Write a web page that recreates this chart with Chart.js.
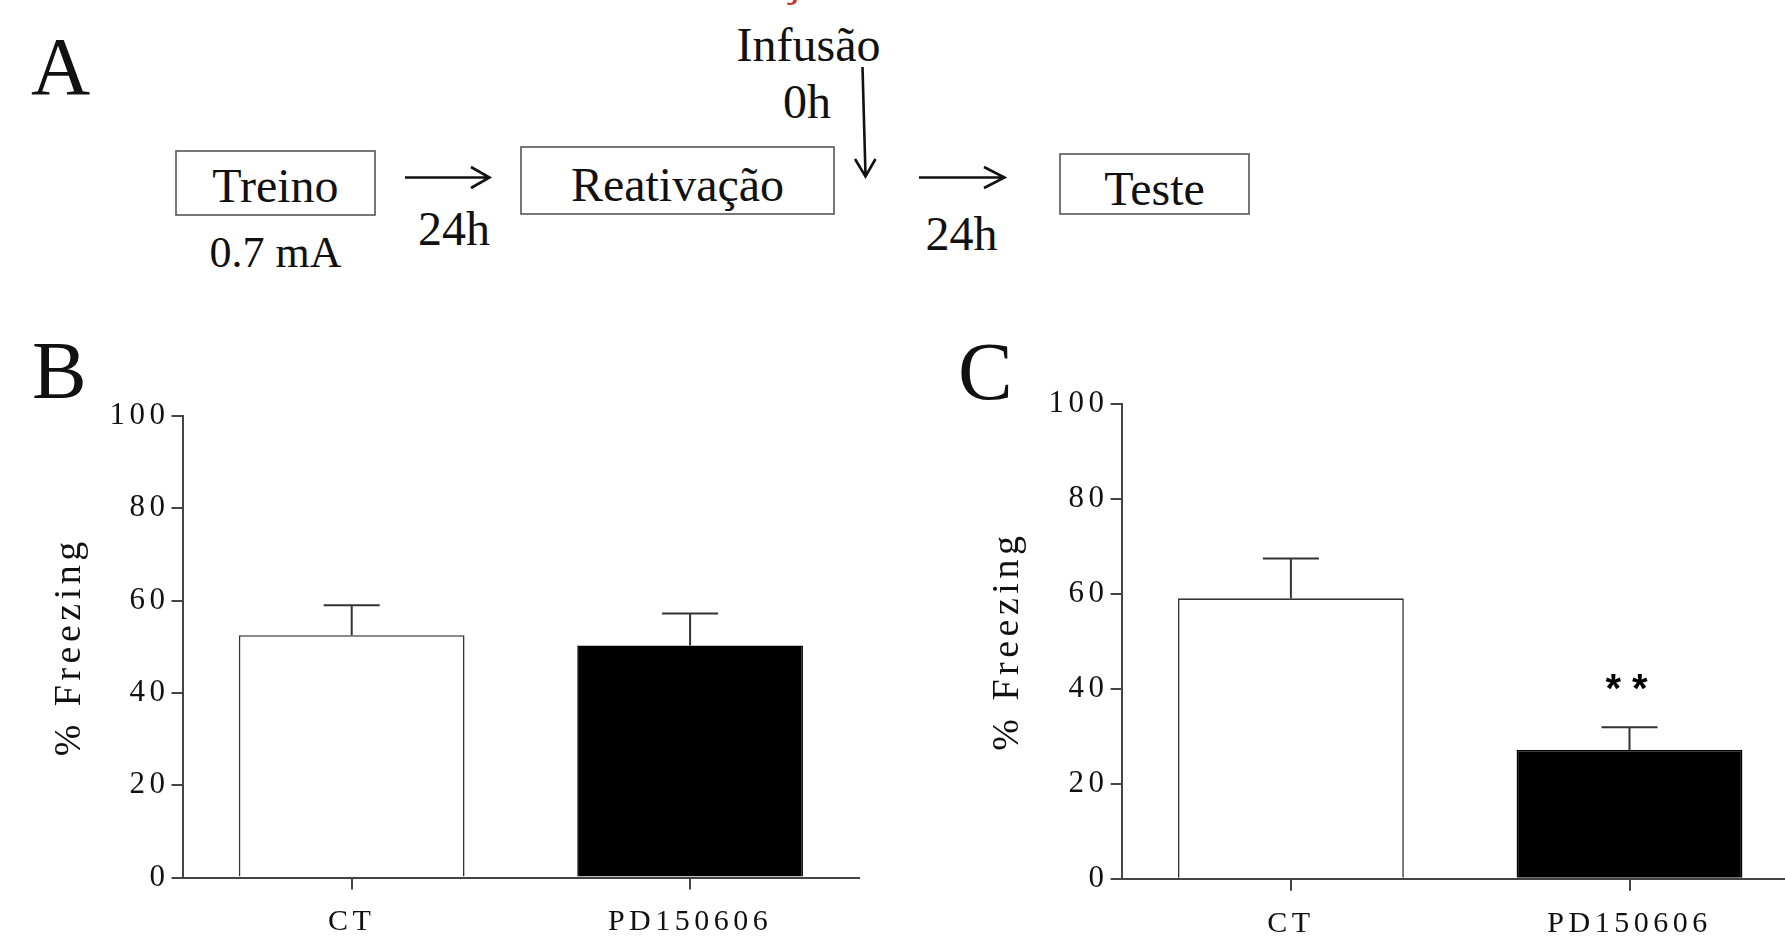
<!DOCTYPE html>
<html>
<head>
<meta charset="utf-8">
<script src="https://cdn.jsdelivr.net/npm/chart.js@4.4.1/dist/chart.umd.min.js"></script>
<style>
  html, body { margin: 0; padding: 0; background: #fff; overflow: hidden; }
  body { width: 1785px; height: 937px; position: relative; }
  #scheme { position: absolute; left: 0; top: 0; }
  canvas { position: absolute; }
  #chartB { left: 0; top: 330px; }
  #chartC { left: 940px; top: 330px; }
</style>
</head>
<body>

<!-- panel A: protocol scheme + panel letters -->
<svg id="scheme" width="1785" height="937" xmlns="http://www.w3.org/2000/svg">
  <text x="779" y="-6" font-family="'Liberation Serif', serif" font-size="52" fill="#c0392b">ç</text>
  <g font-family="'Liberation Serif', 'Times New Roman', serif" fill="#111">
    <text x="31" y="94" font-size="82">A</text>
    <text x="32" y="398" font-size="82">B</text>
    <text x="958" y="399" font-size="82">C</text>
    <text x="808.5" y="61" font-size="48" text-anchor="middle">Infusão</text>
    <text x="807" y="118" font-size="48" text-anchor="middle">0h</text>
    <text x="275.5" y="202" font-size="48" text-anchor="middle">Treino</text>
    <text x="275.5" y="267" font-size="44" text-anchor="middle">0.7 mA</text>
    <text x="454" y="245" font-size="48" text-anchor="middle">24h</text>
    <text x="677.5" y="201" font-size="48" text-anchor="middle">Reativação</text>
    <text x="961.5" y="250" font-size="48" text-anchor="middle">24h</text>
    <text x="1154.5" y="205" font-size="48" text-anchor="middle">Teste</text>
  </g>
  <g fill="none" stroke="#555" stroke-width="1.6">
    <rect x="176" y="151" width="199" height="64"/>
    <rect x="521" y="147" width="313" height="67"/>
    <rect x="1060" y="154" width="189" height="60"/>
  </g>
  <g fill="none" stroke="#111" stroke-width="2.6">
    <path d="M405 177.5 H489 M471 167 L489.5 177.5 L471 188"/>
    <path d="M919 177.5 H1004 M984 167 L1004.5 177.5 L984 188"/>
    <path d="M862.5 67 L865.5 175 M855 159 L865.5 176.5 L875.5 159"/>
  </g>
</svg>

<canvas id="chartB" width="870" height="607"></canvas>
<canvas id="chartC" width="870" height="607"></canvas>

<script>
// data (% freezing, mean + SEM)
const groups = ['CT', 'PD150606'];
const freezingB = [52.5, 50.3];
const semB = [6.5, 6.9];
const freezingC = [59.0, 27.1];
const semC = [8.4, 4.8];
const sigB = ['', ''];
const sigC = ['', '* *'];
const barFills = ['#ffffff', '#000000'];
const barEdges = ['#333333', '#000000'];

const serif = "'Liberation Serif', 'Times New Roman', serif";
const axisColor = '#444';

// spaced-out lettering like the original figure
const spacing = {
    id: 'spacing',
    beforeLayout(chart) { chart.ctx.letterSpacing = '4.5px'; },
    beforeDraw(chart) { chart.ctx.letterSpacing = '4.5px'; }
};

// SEM whiskers + significance marks
const errorBars = {
    id: 'errorBars',
    afterDatasetsDraw(chart) {
        const ctx = chart.ctx;
        const ds = chart.data.datasets[0];
        const meta = chart.getDatasetMeta(0);
        const y = chart.scales.y;
        ctx.save();
        ctx.strokeStyle = '#333';
        ctx.lineWidth = 2;
        meta.data.forEach((bar, i) => {
            const base = y.getPixelForValue(ds.data[i]);
            const top = y.getPixelForValue(ds.data[i] + ds.errors[i]);
            ctx.beginPath();
            ctx.moveTo(bar.x, base);
            ctx.lineTo(bar.x, top);
            ctx.moveTo(bar.x - 28, top);
            ctx.lineTo(bar.x + 28, top);
            ctx.stroke();
            if (ds.marks[i]) {
                ctx.letterSpacing = '0px';
                ctx.fillStyle = '#000';
                ctx.font = "bold 40px 'Liberation Sans', Arial, sans-serif";
                ctx.textAlign = 'center';
                ctx.textBaseline = 'alphabetic';
                ctx.fillText(ds.marks[i], bar.x - 3, top - 25);
            }
        });
        ctx.restore();
    }
};

function buildChart(id, values, errors, marks, area) {
    return new Chart(document.getElementById(id), {
        type: 'bar',
        data: {
            labels: groups,
            datasets: [{
                data: values,
                errors: errors,
                marks: marks,
                backgroundColor: barFills,
                borderColor: barEdges,
                borderWidth: 1.6,
                barPercentage: 0.667,
                categoryPercentage: 1
            }]
        },
        options: {
            responsive: false,
            animation: false,
            layout: { padding: { top: area.top, right: area.right, left: 0, bottom: 0 } },
            plugins: { legend: { display: false }, tooltip: { enabled: false } },
            scales: {
                x: {
                    grid: { offset: false, drawOnChartArea: false, tickLength: 12, color: axisColor, lineWidth: 2 },
                    border: { color: axisColor, width: 2 },
                    ticks: { font: { family: serif, size: 30 }, color: '#111', padding: 15 },
                    afterFit: s => { s.height = area.xh; }
                },
                y: {
                    min: 0,
                    max: 100,
                    ticks: { stepSize: 20, font: { family: serif, size: 31 }, color: '#111', padding: 2 },
                    grid: { drawOnChartArea: false, tickLength: 11, color: axisColor, lineWidth: 2 },
                    border: { color: axisColor, width: 2 },
                    title: {
                        display: true,
                        text: '% Freezing',
                        font: { family: serif, size: 38 },
                        color: '#111',
                        padding: { top: area.titlePad, bottom: 0 }
                    },
                    afterFit: s => { s.width = area.yw; }
                }
            }
        },
        plugins: [spacing, errorBars]
    });
}

buildChart('chartB', freezingB, semB, sigB, { top: 86, right: 10.7, xh: 59.4, yw: 182.5, titlePad: 47 });
buildChart('chartC', freezingC, semC, sigC, { top: 73.5, right: 11.2, xh: 58.2, yw: 181.6, titlePad: 45 });
</script>
</body>
</html>
